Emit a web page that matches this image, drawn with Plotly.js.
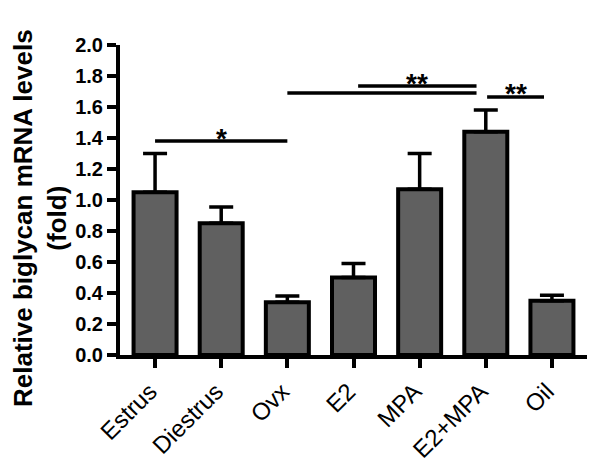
<!DOCTYPE html>
<html>
<head>
<meta charset="utf-8">
<script src="https://cdn.plot.ly/plotly-3.0.1.min.js"></script>
<style>
  body { margin: 0; background: #fff; }
  #chart { width: 600px; height: 464px; }
</style>
</head>
<body>
<div id="chart"></div>
<script>
// groups and measured values (fold change)
var groups = ["Estrus", "Diestrus", "Ovx", "E2", "MPA", "E2+MPA", "Oil"];
var means = [1.05, 0.85, 0.34, 0.50, 1.07, 1.44, 0.35];
var sem = [0.25, 0.105, 0.04, 0.09, 0.23, 0.14, 0.035];

// significance brackets: start/end in category index, height, label
var sigFrom = [0, 2, 3.07, 5.02];
var sigTo = [2, 4.86, 4.86, 5.88];
var sigY = [1.38, 1.69, 1.735, 1.665];
var sigLabel = ["*", "", "**", "**"];

var xIdx = groups.map(function (g, i) { return i; });

var trace = {
  type: "bar",
  x: xIdx,
  y: means,
  width: 0.65,
  marker: { color: "#606060", line: { color: "#000", width: 4 } },
  error_y: {
    type: "data",
    symmetric: false,
    array: sem,
    arrayminus: sem.map(function () { return 0; }),
    color: "#000",
    thickness: 3.5,
    width: 12
  },
  hoverinfo: "none"
};

var shapes = [];
var annotations = [];
for (var i = 0; i < sigFrom.length; i++) {
  shapes.push({
    type: "line", xref: "x", yref: "y",
    x0: sigFrom[i], x1: sigTo[i], y0: sigY[i], y1: sigY[i],
    line: { color: "#000", width: 3.5 }
  });
  if (sigLabel[i]) {
    annotations.push({
      xref: "x", yref: "y",
      x: (sigFrom[i] + sigTo[i]) / 2, y: sigY[i],
      text: sigLabel[i], showarrow: false,
      yanchor: "middle", yshift: 3,
      font: { family: "Liberation Sans", size: 28, weight: "bold", color: "#000" }
    });
  }
}

// y axis title as an annotation so it can sit a little lower, like the original
annotations.push({
  xref: "paper", yref: "paper", x: 0, y: 0.5,
  xanchor: "center", yanchor: "middle",
  xshift: -80, yshift: -18,
  textangle: -90,
  text: "<b>Relative biglycan mRNA levels<br>(fold)</b>",
  showarrow: false,
  font: { family: "Liberation Sans", size: 26, color: "#000" }
});

var layout = {
  width: 600,
  height: 464,
  margin: { l: 120, r: 13, t: 45, b: 109 },
  paper_bgcolor: "#fff",
  plot_bgcolor: "#fff",
  showlegend: false,
  font: { family: "Liberation Sans", color: "#000" },
  xaxis: {
    range: [-0.53, 6.53],
    tickvals: xIdx,
    ticktext: groups,
    tickangle: -45,
    tickfont: { size: 24 },
    ticklabelshift: -5,
    showline: true, linewidth: 4, linecolor: "#000",
    ticks: "outside", ticklen: 9, tickwidth: 4, tickcolor: "#000",
    showgrid: false, zeroline: false
  },
  yaxis: {
    range: [0, 2],
    dtick: 0.2,
    tickformat: ".1f",
    tickfont: { size: 20, weight: "bold" },
    showline: true, linewidth: 4, linecolor: "#000",
    ticks: "outside", ticklen: 9, tickwidth: 4, tickcolor: "#000",
    showgrid: false, zeroline: false
  },
  shapes: shapes,
  annotations: annotations
};

Plotly.newPlot("chart", [trace], layout, { displayModeBar: false, staticPlot: true });
</script>
</body>
</html>
